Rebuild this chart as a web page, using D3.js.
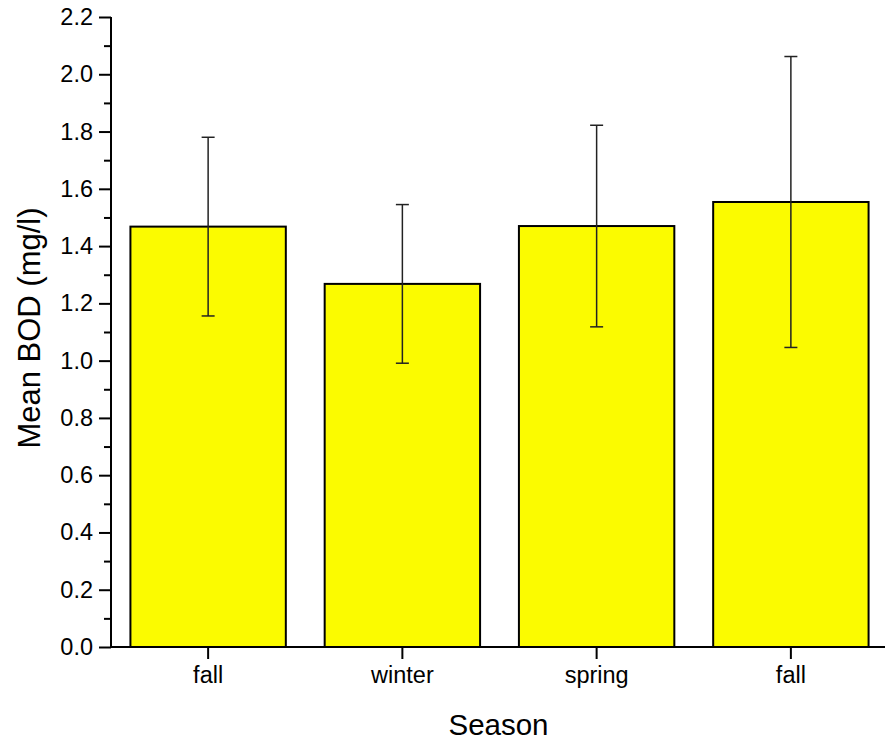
<!DOCTYPE html>
<html><head><meta charset="utf-8">
<script src="https://cdn.jsdelivr.net/npm/d3@7"></script>
<style>body{margin:0;background:#fff}svg{display:block}text{font-family:"Liberation Sans",Arial,sans-serif;fill:#000}</style>
</head><body>
<svg id="chart" width="885" height="742"></svg>
<script>
const categories = ["fall", "winter", "spring", "fall"];
const meanBOD = [1.468, 1.268, 1.470, 1.554];
const errBOD = [0.312, 0.277, 0.352, 0.508];
const yTicks = [0.0, 0.2, 0.4, 0.6, 0.8, 1.0, 1.2, 1.4, 1.6, 1.8, 2.0, 2.2];
const yMinorTicks = [0.1, 0.3, 0.5, 0.7, 0.9, 1.1, 1.3, 1.5, 1.7, 1.9, 2.1];

(function () {
const svg = d3.select("#chart");
const mLeft = 111, mRight = 888, mTop = 17, mBottom = 647;
const idx = categories.map((d, i) => i);
const x = d3.scaleBand().domain(idx).range([mLeft, mRight]).paddingInner(0.2).paddingOuter(0.1);
const y = d3.scaleLinear().domain([0, 2.2]).range([mBottom, mTop]);

// bars
svg.append("g").selectAll("rect").data(idx).join("rect")
  .attr("x", i => x(i)).attr("width", x.bandwidth())
  .attr("y", i => y(meanBOD[i])).attr("height", i => y(0) - y(meanBOD[i]))
  .attr("fill", "#fbfb00").attr("stroke", "#000").attr("stroke-width", 2);

// error bars
const eg = svg.append("g").attr("stroke", "#222").attr("stroke-width", 1.5);
idx.forEach(i => {
  const cx = x(i) + x.bandwidth() / 2;
  eg.append("line").attr("x1", cx).attr("x2", cx).attr("y1", y(meanBOD[i] + errBOD[i])).attr("y2", y(meanBOD[i] - errBOD[i]));
  [meanBOD[i] + errBOD[i], meanBOD[i] - errBOD[i]].forEach(v => {
    eg.append("line").attr("x1", cx - 6.5).attr("x2", cx + 6.5).attr("y1", y(v)).attr("y2", y(v));
  });
});

const tickFont = 23.5;
// y axis
const yAxis = d3.axisLeft(y).tickValues(yTicks).tickFormat(d3.format(".1f")).tickSize(12).tickPadding(6);
const ya = svg.append("g").attr("transform", `translate(${mLeft},0)`).call(yAxis);
ya.attr("font-size", tickFont).attr("font-family", "Liberation Sans, Arial, sans-serif");
ya.select(".domain").attr("stroke-width", 2).attr("d", `M0,${mTop}V${mBottom}`);
ya.selectAll(".tick line").attr("stroke-width", 2);
const yMinor = d3.axisLeft(y).tickValues(yMinorTicks).tickSize(7).tickFormat("");
const ym = svg.append("g").attr("transform", `translate(${mLeft},0)`).call(yMinor);
ym.select(".domain").remove();
ym.selectAll(".tick line").attr("stroke-width", 2);

// x axis
const xAxis = d3.axisBottom(x).tickFormat(i => categories[i]).tickSize(12).tickPadding(7);
const xa = svg.append("g").attr("transform", `translate(0,${mBottom})`).call(xAxis);
xa.attr("font-size", tickFont).attr("font-family", "Liberation Sans, Arial, sans-serif");
xa.select(".domain").attr("stroke-width", 2).attr("d", `M${mLeft},0H${mRight}`);
xa.selectAll(".tick line").attr("stroke-width", 2);

// titles
svg.append("text").attr("x", (mLeft + mRight) / 2 - 1).attr("y", 735).attr("text-anchor", "middle").attr("font-size", 29.5).text("Season");
svg.append("text").attr("transform", `translate(40,${(mTop + mBottom) / 2 - 4}) rotate(-90)`).attr("text-anchor", "middle").attr("font-size", 31).text("Mean BOD (mg/l)");
})();
</script>
</body></html>
